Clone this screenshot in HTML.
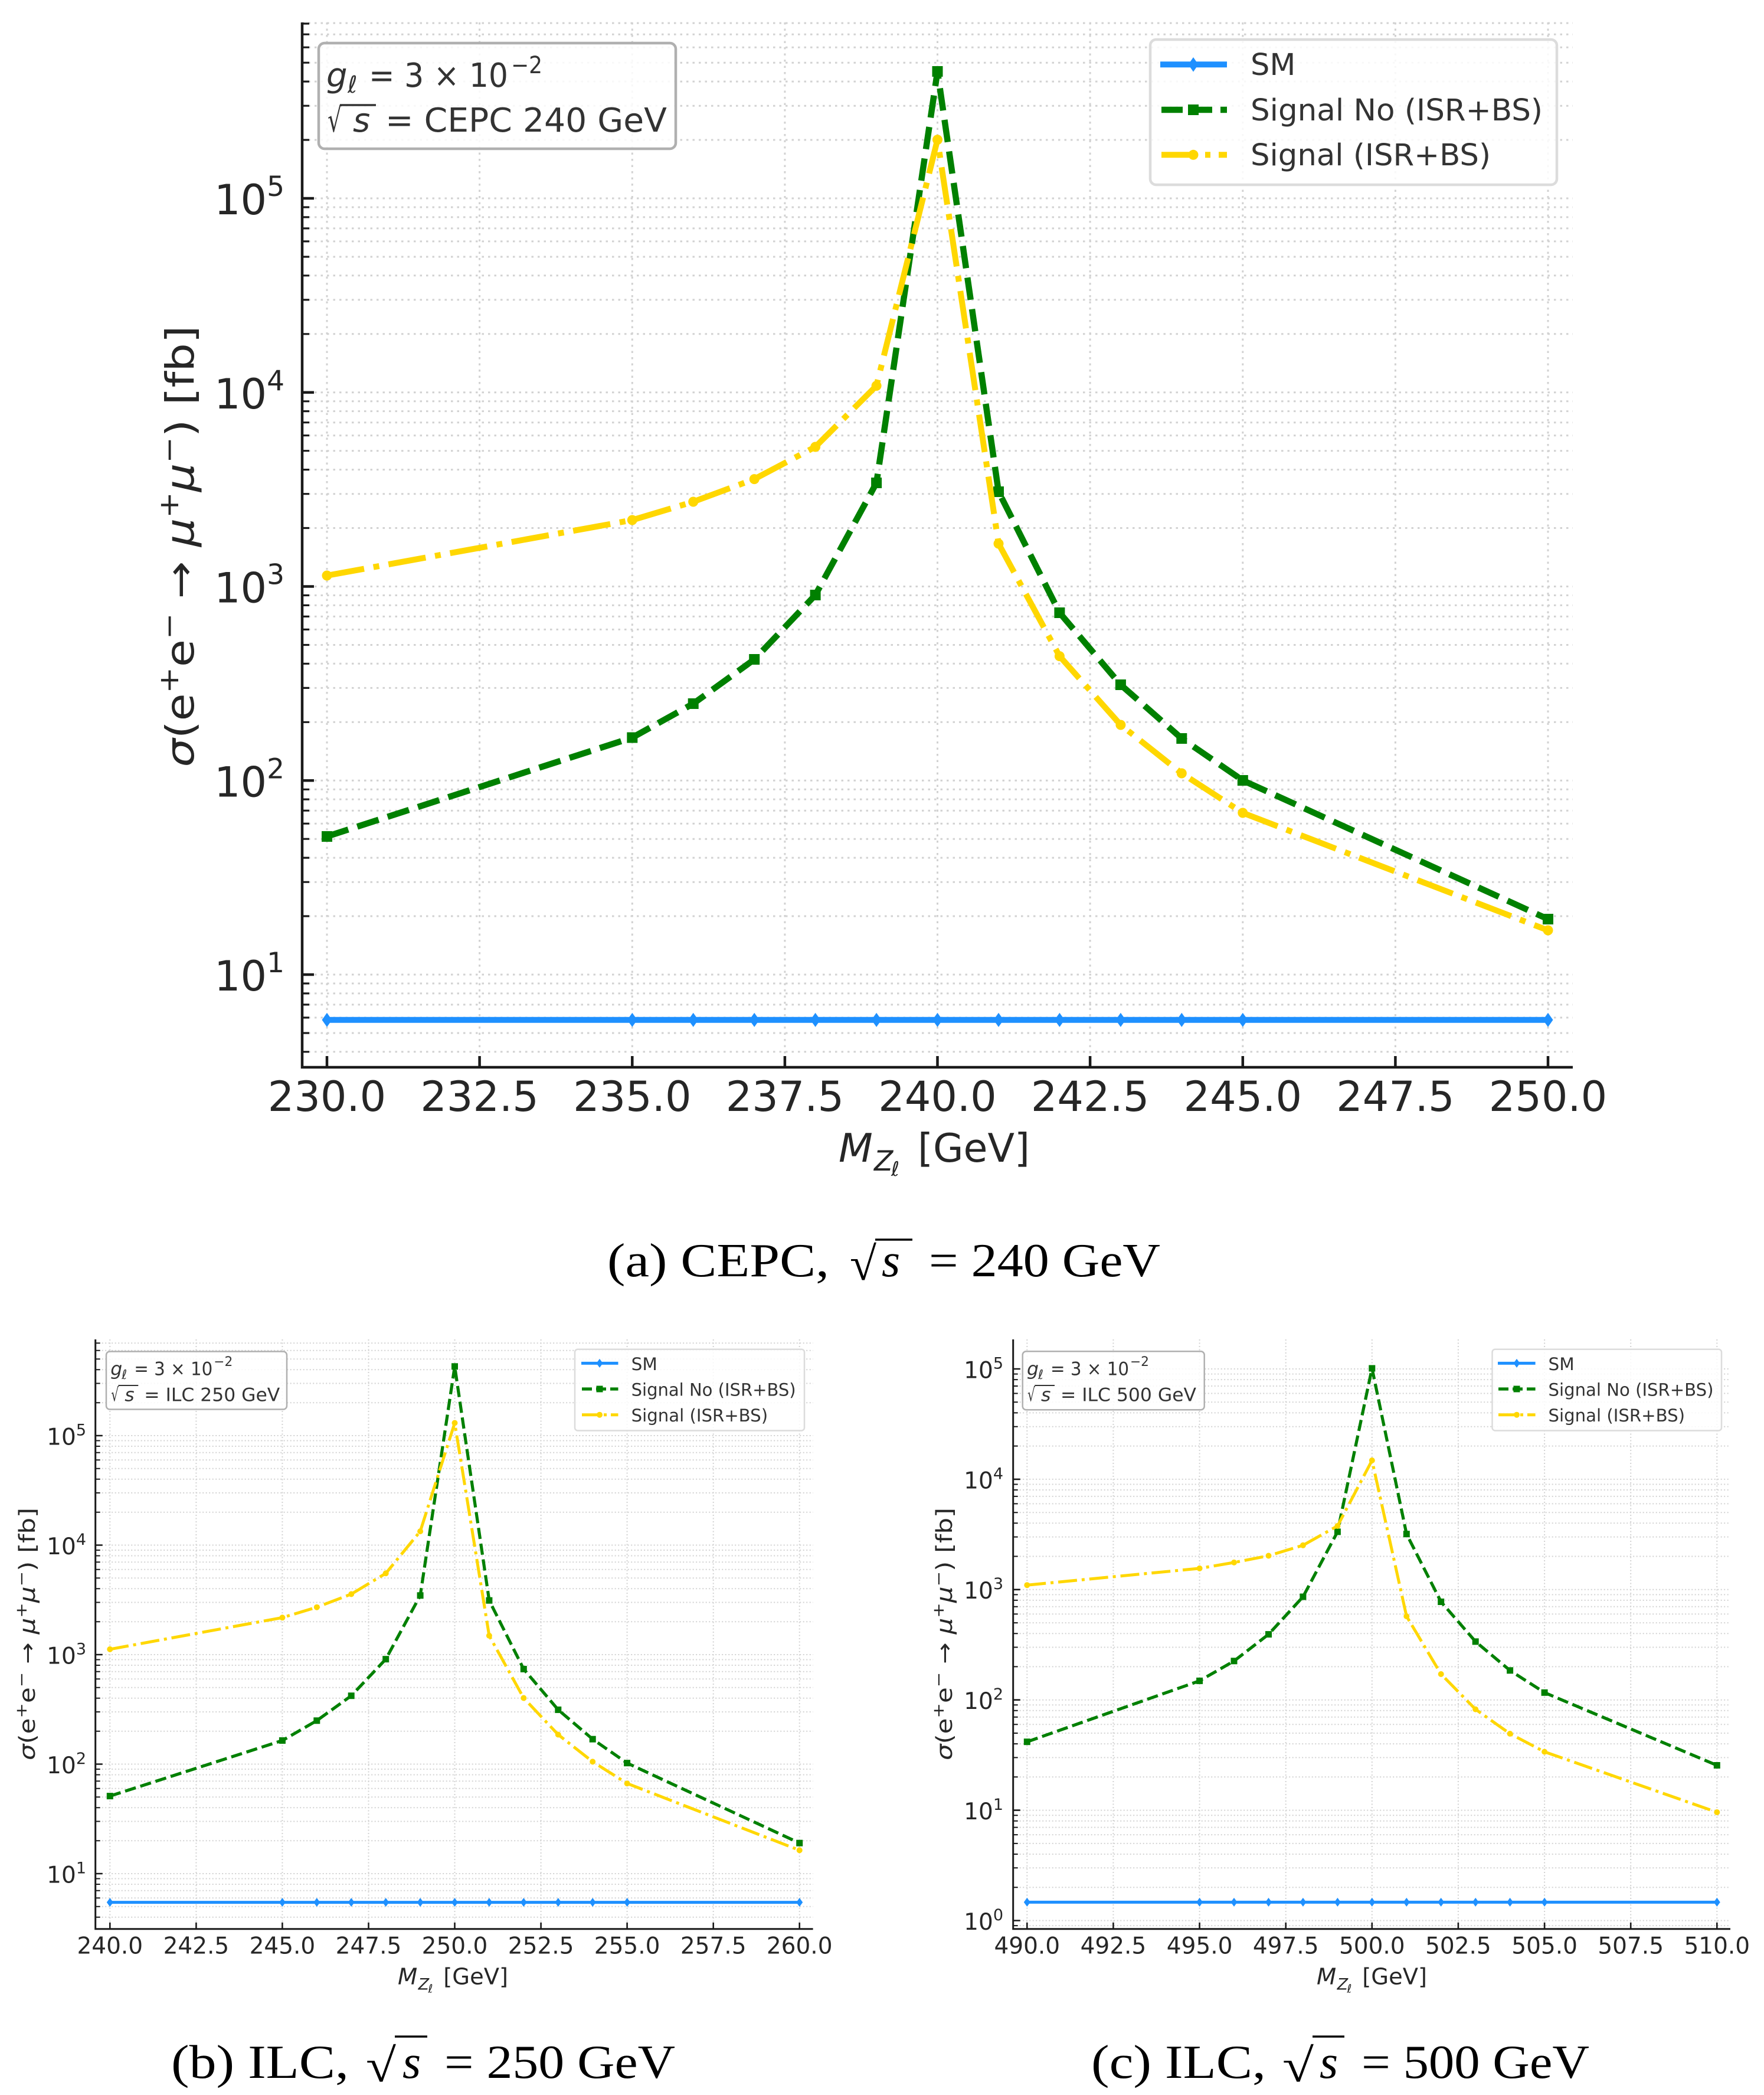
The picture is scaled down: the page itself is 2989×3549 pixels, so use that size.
<!DOCTYPE html>
<html>
<head>
<meta charset="utf-8">
<style>
html,body{margin:0;padding:0;background:#fff;}
svg{display:block;}
.t{font-family:"DejaVu Sans","Liberation Sans",sans-serif;fill:#262626;}
.l{font-family:"DejaVu Sans","Liberation Sans",sans-serif;fill:#333;}
.c{font-family:"Liberation Serif","DejaVu Serif",serif;fill:#000;}
</style>
</head>
<body>
<svg width="2989" height="3549" viewBox="0 0 2989 3549" xmlns="http://www.w3.org/2000/svg">
<defs>
<marker id="dA" markerUnits="userSpaceOnUse" markerWidth="30" markerHeight="30" viewBox="-15 -15 30 30" refX="0" refY="0" overflow="visible"><path d="M0 -12 L8.5 0 L0 12 L-8.5 0Z" fill="#1E90FF"/></marker>
<marker id="sA" markerUnits="userSpaceOnUse" markerWidth="30" markerHeight="30" viewBox="-15 -15 30 30" refX="0" refY="0" overflow="visible"><rect x="-9" y="-9" width="18" height="18" fill="#008000"/></marker>
<marker id="cA" markerUnits="userSpaceOnUse" markerWidth="30" markerHeight="30" viewBox="-15 -15 30 30" refX="0" refY="0" overflow="visible"><circle r="8.5" fill="#FFD700"/></marker>
<marker id="dB" markerUnits="userSpaceOnUse" markerWidth="20" markerHeight="20" viewBox="-10 -10 20 20" refX="0" refY="0" overflow="visible"><path d="M0 -7.5 L5.5 0 L0 7.5 L-5.5 0Z" fill="#1E90FF"/></marker>
<marker id="sB" markerUnits="userSpaceOnUse" markerWidth="20" markerHeight="20" viewBox="-10 -10 20 20" refX="0" refY="0" overflow="visible"><rect x="-5.5" y="-5.5" width="11" height="11" fill="#008000"/></marker>
<marker id="cB" markerUnits="userSpaceOnUse" markerWidth="20" markerHeight="20" viewBox="-10 -10 20 20" refX="0" refY="0" overflow="visible"><circle r="5" fill="#FFD700"/></marker>
</defs>
<rect width="2989" height="3549" fill="#fff"/>

<!-- ===================== PLOT (a) ===================== -->
<g fill="none" stroke="#d2d2d2" stroke-width="3" stroke-dasharray="3.5 7">
<path d="M512 1651H2665M512 1322.25H2665M512 993.5H2665M512 664.75H2665M512 336H2665
M512 1781.8H2665M512 1750H2665M512 1723.9H2665M512 1701.9H2665M512 1682.9H2665M512 1666H2665
M512 1552H2665M512 1494.2H2665M512 1453.1H2665M512 1421.2H2665M512 1395.2H2665M512 1373.2H2665M512 1354.1H2665M512 1337.3H2665
M512 1223.3H2665M512 1165.4H2665M512 1124.3H2665M512 1092.5H2665M512 1066.4H2665M512 1044.4H2665M512 1025.4H2665M512 1008.5H2665
M512 894.5H2665M512 836.7H2665M512 795.6H2665M512 763.7H2665M512 737.7H2665M512 715.7H2665M512 696.6H2665M512 679.8H2665
M512 565.8H2665M512 507.9H2665M512 466.8H2665M512 435H2665M512 408.9H2665M512 386.9H2665M512 367.9H2665M512 351H2665
M512 237H2665M512 179.2H2665M512 138.1H2665M512 106.2H2665M512 80.2H2665M512 58.2H2665M512 39.1H2665"/>
<path d="M554 38V1808M812.6 38V1808M1071.3 38V1808M1329.9 38V1808M1588.5 38V1808M1847.1 38V1808M2105.8 38V1808M2364.4 38V1808M2623 38V1808"/>
</g>

<!-- series (a) -->
<polyline fill="none" stroke="#1E90FF" stroke-width="10" points="554,1727.7 1071.3,1727.7 1174.7,1727.7 1278.2,1727.7 1381.6,1727.7 1485.1,1727.7 1588.5,1727.7 1692,1727.7 1795.4,1727.7 1898.9,1727.7 2002.3,1727.7 2105.8,1727.7 2623,1727.7" marker-start="url(#dA)" marker-mid="url(#dA)" marker-end="url(#dA)"/>
<polyline fill="none" stroke="#008000" stroke-width="10.5" stroke-dasharray="38 16" stroke-linejoin="round" points="554,1417 1071.3,1249.5 1174.7,1192 1278.2,1117 1381.6,1008 1485.1,818 1588.5,121 1692,833 1795.4,1038 1898.9,1160 2002.3,1251 2105.8,1322 2623,1557" marker-start="url(#sA)" marker-mid="url(#sA)" marker-end="url(#sA)"/>
<polyline fill="none" stroke="#FFD700" stroke-width="10" stroke-dasharray="64 16 10 16" stroke-linejoin="round" points="554,975 1071.3,881 1174.7,850 1278.2,811.6 1381.6,757 1485.1,653.5 1588.5,236.7 1692,921 1795.4,1111.6 1898.9,1228 2002.3,1310 2105.8,1377 2623,1576" marker-start="url(#cA)" marker-mid="url(#cA)" marker-end="url(#cA)"/>

<!-- spines & ticks (a) -->
<g stroke="#1a1a1a" fill="none">
<path stroke-width="4.5" d="M512 38V1810M509.75 1808H2665"/>
<path stroke-width="4.5" d="M512 1651h20M512 1322.25h20M512 993.5h20M512 664.75h20M512 336h20
M554 1808v-19M812.6 1808v-19M1071.3 1808v-19M1329.9 1808v-19M1588.5 1808v-19M1847.1 1808v-19M2105.8 1808v-19M2364.4 1808v-19M2623 1808v-19"/>
<path stroke-width="3.2" d="M512 1781.8h12M512 1750h12M512 1723.9h12M512 1701.9h12M512 1682.9h12M512 1666h12
M512 1552h12M512 1494.2h12M512 1453.1h12M512 1421.2h12M512 1395.2h12M512 1373.2h12M512 1354.1h12M512 1337.3h12
M512 1223.3h12M512 1165.4h12M512 1124.3h12M512 1092.5h12M512 1066.4h12M512 1044.4h12M512 1025.4h12M512 1008.5h12
M512 894.5h12M512 836.7h12M512 795.6h12M512 763.7h12M512 737.7h12M512 715.7h12M512 696.6h12M512 679.8h12
M512 565.8h12M512 507.9h12M512 466.8h12M512 435h12M512 408.9h12M512 386.9h12M512 367.9h12M512 351h12
M512 237h12M512 179.2h12M512 138.1h12M512 106.2h12M512 80.2h12M512 58.2h12M512 40h12"/>
</g>

<!-- tick labels (a) -->
<g class="t" font-size="70" text-anchor="middle">
<text x="554" y="1882">230.0</text>
<text x="812.6" y="1882">232.5</text>
<text x="1071.3" y="1882">235.0</text>
<text x="1329.9" y="1882">237.5</text>
<text x="1588.5" y="1882">240.0</text>
<text x="1847.1" y="1882">242.5</text>
<text x="2105.8" y="1882">245.0</text>
<text x="2364.4" y="1882">247.5</text>
<text x="2623" y="1882">250.0</text>
</g>
<g class="t" font-size="70" text-anchor="end">
<text x="482" y="1678">10<tspan dy="-31" font-size="47">1</tspan></text>
<text x="482" y="1349.25">10<tspan dy="-31" font-size="47">2</tspan></text>
<text x="482" y="1020.5">10<tspan dy="-31" font-size="47">3</tspan></text>
<text x="482" y="691.75">10<tspan dy="-31" font-size="47">4</tspan></text>
<text x="482" y="363">10<tspan dy="-31" font-size="47">5</tspan></text>
</g>

<!-- axis labels (a) -->
<g class="t">
<text x="1421" y="1968" font-size="67" font-style="italic">M</text>
<text x="1481" y="1983" font-size="47" font-style="italic">Z</text>
<text x="1510" y="1992" font-size="34" font-style="italic">ℓ</text>
<text x="1555" y="1968" font-size="67" textLength="190" lengthAdjust="spacingAndGlyphs">[GeV]</text>
</g>
<text class="t" font-size="66" transform="translate(328,925.5) rotate(-90)" text-anchor="middle" textLength="748" lengthAdjust="spacingAndGlyphs"><tspan font-style="italic">σ</tspan>(e<tspan dy="-26" font-size="46">+</tspan><tspan dy="26">e</tspan><tspan dy="-26" font-size="46">−</tspan><tspan dy="26"> → </tspan><tspan font-style="italic">μ</tspan><tspan dy="-26" font-size="46">+</tspan><tspan dy="26" font-style="italic">μ</tspan><tspan dy="-26" font-size="46">−</tspan><tspan dy="26">) [fb]</tspan></text>

<!-- annotation (a) -->
<rect x="540" y="73" width="605" height="179" rx="10" fill="#fff" fill-opacity="0.85" stroke="#b0b0b0" stroke-width="4.5"/>
<g class="l">
<text x="553" y="147" font-size="56" font-style="italic">g</text>
<text x="589" y="157" font-size="40" font-style="italic">ℓ</text>
<text x="625" y="147" font-size="56" textLength="236" lengthAdjust="spacingAndGlyphs">= 3 × 10</text>
<text x="866" y="124" font-size="40" textLength="53" lengthAdjust="spacingAndGlyphs">−2</text>
<text x="555" y="223" font-size="56" textLength="24" lengthAdjust="spacingAndGlyphs">√</text>
<text x="598" y="223" font-size="56" font-style="italic">s</text>
<text x="653" y="223" font-size="56" textLength="477" lengthAdjust="spacingAndGlyphs">= CEPC 240 GeV</text>
</g>
<line x1="576" y1="178" x2="637" y2="178" stroke="#333" stroke-width="3.5"/>

<!-- legend (a) -->
<rect x="1949" y="67" width="689" height="246" rx="10" fill="#fff" fill-opacity="0.85" stroke="#dcdcdc" stroke-width="4.5"/>
<line x1="1966" y1="109.3" x2="2079" y2="109.3" stroke="#1E90FF" stroke-width="10"/>
<path d="M2022 97 L2030.5 109.3 L2022 121.6 L2013.5 109.3Z" fill="#1E90FF"/>
<line x1="1968" y1="186" x2="2079" y2="186" stroke="#008000" stroke-width="10.5" stroke-dasharray="36 14"/>
<rect x="2013" y="177" width="18" height="18" fill="#008000"/>
<line x1="1968" y1="262.3" x2="2079" y2="262.3" stroke="#FFD700" stroke-width="10" stroke-dasharray="60 14 9 14"/>
<circle cx="2022" cy="262.3" r="8.5" fill="#FFD700"/>
<g class="l" font-size="51">
<text x="2119" y="127">SM</text>
<text x="2119" y="204" textLength="495" lengthAdjust="spacingAndGlyphs">Signal No (ISR+BS)</text>
<text x="2119" y="280" textLength="407" lengthAdjust="spacingAndGlyphs">Signal (ISR+BS)</text>
</g>

<!-- caption (a) -->
<g class="c" font-size="80">
<text x="1029" y="2162" textLength="376" lengthAdjust="spacingAndGlyphs">(a) CEPC,</text>
<text x="1440" y="2168" textLength="45" lengthAdjust="spacingAndGlyphs">√</text>
<text x="1494" y="2162" font-style="italic">s</text>
<text x="1574" y="2162" textLength="392" lengthAdjust="spacingAndGlyphs">= 240 GeV</text>
</g>
<line x1="1483" y1="2100" x2="1546" y2="2100" stroke="#000" stroke-width="3.5"/>

<!-- ===================== PLOT (b) ===================== -->
<g fill="none" stroke="#d2d2d2" stroke-width="2" stroke-dasharray="2 3.5">
<path d="M161.7 3174H1377.6M161.7 2988.5H1377.6M161.7 2803H1377.6M161.7 2617.5H1377.6M161.7 2432H1377.6
M161.7 3247.8H1377.6M161.7 3229.8H1377.6M161.7 3215.2H1377.6M161.7 3202.7H1377.6M161.7 3192H1377.6M161.7 3182.5H1377.6
M161.7 3118.2H1377.6M161.7 3085.5H1377.6M161.7 3062.3H1377.6M161.7 3044.3H1377.6M161.7 3029.7H1377.6M161.7 3017.2H1377.6M161.7 3006.5H1377.6M161.7 2997H1377.6
M161.7 2932.7H1377.6M161.7 2900H1377.6M161.7 2876.8H1377.6M161.7 2858.8H1377.6M161.7 2844.2H1377.6M161.7 2831.7H1377.6M161.7 2821H1377.6M161.7 2811.5H1377.6
M161.7 2747.2H1377.6M161.7 2714.5H1377.6M161.7 2691.3H1377.6M161.7 2673.3H1377.6M161.7 2658.7H1377.6M161.7 2646.2H1377.6M161.7 2635.5H1377.6M161.7 2626H1377.6
M161.7 2561.7H1377.6M161.7 2529H1377.6M161.7 2505.8H1377.6M161.7 2487.8H1377.6M161.7 2473.2H1377.6M161.7 2460.7H1377.6M161.7 2450H1377.6M161.7 2440.5H1377.6
M161.7 2376.2H1377.6M161.7 2343.5H1377.6M161.7 2320.3H1377.6M161.7 2302.3H1377.6M161.7 2287.7H1377.6M161.7 2275.2H1377.6"/>
<path d="M186.3 2269V3267.7M332.4 2269V3267.7M478.4 2269V3267.7M624.5 2269V3267.7M770.5 2269V3267.7M916.6 2269V3267.7M1062.6 2269V3267.7M1208.7 2269V3267.7M1354.7 2269V3267.7"/>
</g>

<polyline fill="none" stroke="#1E90FF" stroke-width="5" points="186.3,3222.6 478.4,3222.6 536.8,3222.6 595.2,3222.6 653.7,3222.6 712.1,3222.6 770.5,3222.6 828.9,3222.6 887.3,3222.6 945.8,3222.6 1004.2,3222.6 1062.6,3222.6 1354.7,3222.6" marker-start="url(#dB)" marker-mid="url(#dB)" marker-end="url(#dB)"/>
<polyline fill="none" stroke="#008000" stroke-width="5.2" stroke-dasharray="19 8" stroke-linejoin="round" points="186.3,3042.6 478.4,2948.5 536.8,2914.8 595.2,2872.7 653.7,2810.7 712.1,2702.8 770.5,2314.8 828.9,2711.2 887.3,2827.5 945.8,2896.4 1004.2,2946.2 1062.6,2986.7 1354.7,3122.2" marker-start="url(#sB)" marker-mid="url(#sB)" marker-end="url(#sB)"/>
<polyline fill="none" stroke="#FFD700" stroke-width="5" stroke-dasharray="32 8 5 8" stroke-linejoin="round" points="186.3,2793.9 478.4,2740.3 536.8,2722.7 595.2,2700.5 653.7,2665.3 712.1,2594.1 770.5,2410.5 828.9,2770.9 887.3,2876.5 945.8,2938.5 1004.2,2984.4 1062.6,3021.2 1354.7,3134.4" marker-start="url(#cB)" marker-mid="url(#cB)" marker-end="url(#cB)"/>

<g stroke="#1a1a1a" fill="none">
<path stroke-width="3" d="M161.7 2269V3269M160.2 3267.7H1377.6"/>
<path stroke-width="2.6" d="M161.7 3174h12M161.7 2988.5h12M161.7 2803h12M161.7 2617.5h12M161.7 2432h12
M186.3 3267.7v-11M332.4 3267.7v-11M478.4 3267.7v-11M624.5 3267.7v-11M770.5 3267.7v-11M916.6 3267.7v-11M1062.6 3267.7v-11M1208.7 3267.7v-11M1354.7 3267.7v-11"/>
<path stroke-width="2" d="M161.7 3247.8h8M161.7 3229.8h8M161.7 3215.2h8M161.7 3202.7h8M161.7 3192h8M161.7 3182.5h8
M161.7 3118.2h8M161.7 3085.5h8M161.7 3062.3h8M161.7 3044.3h8M161.7 3029.7h8M161.7 3017.2h8M161.7 3006.5h8M161.7 2997h8
M161.7 2932.7h8M161.7 2900h8M161.7 2876.8h8M161.7 2858.8h8M161.7 2844.2h8M161.7 2831.7h8M161.7 2821h8M161.7 2811.5h8
M161.7 2747.2h8M161.7 2714.5h8M161.7 2691.3h8M161.7 2673.3h8M161.7 2658.7h8M161.7 2646.2h8M161.7 2635.5h8M161.7 2626h8
M161.7 2561.7h8M161.7 2529h8M161.7 2505.8h8M161.7 2487.8h8M161.7 2473.2h8M161.7 2460.7h8M161.7 2450h8M161.7 2440.5h8
M161.7 2376.2h8M161.7 2343.5h8M161.7 2320.3h8M161.7 2302.3h8M161.7 2287.7h8M161.7 2275.2h8"/>
</g>

<g class="t" font-size="39" text-anchor="middle">
<text x="186.3" y="3309.5">240.0</text>
<text x="332.4" y="3309.5">242.5</text>
<text x="478.4" y="3309.5">245.0</text>
<text x="624.5" y="3309.5">247.5</text>
<text x="770.5" y="3309.5">250.0</text>
<text x="916.6" y="3309.5">252.5</text>
<text x="1062.6" y="3309.5">255.0</text>
<text x="1208.7" y="3309.5">257.5</text>
<text x="1354.7" y="3309.5">260.0</text>
</g>
<g class="t" font-size="39" text-anchor="end">
<text x="146" y="3189.5">10<tspan dy="-16" font-size="27">1</tspan></text>
<text x="146" y="3004">10<tspan dy="-16" font-size="27">2</tspan></text>
<text x="146" y="2818.5">10<tspan dy="-16" font-size="27">3</tspan></text>
<text x="146" y="2633">10<tspan dy="-16" font-size="27">4</tspan></text>
<text x="146" y="2447.5">10<tspan dy="-16" font-size="27">5</tspan></text>
</g>
<g class="t">
<text x="674" y="3361.7" font-size="38.5" font-style="italic">M</text>
<text x="708.6" y="3370.4" font-size="27" font-style="italic">Z</text>
<text x="725.4" y="3375.7" font-size="19.5" font-style="italic">ℓ</text>
<text x="751.3" y="3361.7" font-size="38.5" textLength="109.7" lengthAdjust="spacingAndGlyphs">[GeV]</text>
</g>
<text class="t" font-size="37" transform="translate(59,2768) rotate(-90)" text-anchor="middle" textLength="428" lengthAdjust="spacingAndGlyphs"><tspan font-style="italic">σ</tspan>(e<tspan dy="-14" font-size="26">+</tspan><tspan dy="14">e</tspan><tspan dy="-14" font-size="26">−</tspan><tspan dy="14"> → </tspan><tspan font-style="italic">μ</tspan><tspan dy="-14" font-size="26">+</tspan><tspan dy="14" font-style="italic">μ</tspan><tspan dy="-14" font-size="26">−</tspan><tspan dy="14">) [fb]</tspan></text>

<rect x="180" y="2289.5" width="306" height="98" rx="6" fill="#fff" fill-opacity="0.85" stroke="#b0b0b0" stroke-width="2.5"/>
<g class="l">
<text x="187.3" y="2329.5" font-size="31.5" font-style="italic">g</text>
<text x="206.3" y="2336" font-size="22" font-style="italic">ℓ</text>
<text x="227.3" y="2329.5" font-size="31.5" textLength="133" lengthAdjust="spacingAndGlyphs">= 3 × 10</text>
<text x="362.3" y="2314" font-size="22" textLength="32" lengthAdjust="spacingAndGlyphs">−2</text>
<text x="188.3" y="2373.5" font-size="31.5" textLength="13" lengthAdjust="spacingAndGlyphs">√</text>
<text x="211.3" y="2373.5" font-size="31.5" font-style="italic">s</text>
<text x="244.3" y="2373.5" font-size="31.5" textLength="230" lengthAdjust="spacingAndGlyphs">= ILC 250 GeV</text>
</g>
<line x1="200.5" y1="2347" x2="234.3" y2="2347" stroke="#333" stroke-width="2"/>

<rect x="974" y="2285.7" width="389" height="137.8" rx="5" fill="#fff" fill-opacity="0.85" stroke="#dcdcdc" stroke-width="2.5"/>
<line x1="985" y1="2309.4" x2="1047.5" y2="2309.4" stroke="#1E90FF" stroke-width="5"/>
<path d="M1016 2301.9 L1021.5 2309.4 L1016 2316.9 L1010.5 2309.4Z" fill="#1E90FF"/>
<line x1="986" y1="2353" x2="1047.5" y2="2353" stroke="#008000" stroke-width="5.2" stroke-dasharray="17 7"/>
<rect x="1010.5" y="2347.5" width="11" height="11" fill="#008000"/>
<line x1="986" y1="2396.7" x2="1047.5" y2="2396.7" stroke="#FFD700" stroke-width="5" stroke-dasharray="30 7 5 7"/>
<circle cx="1016" cy="2396.7" r="5" fill="#FFD700"/>
<g class="l" font-size="29.5">
<text x="1069.6" y="2321">SM</text>
<text x="1069.6" y="2364.5" textLength="279" lengthAdjust="spacingAndGlyphs">Signal No (ISR+BS)</text>
<text x="1069.6" y="2408" textLength="231.5" lengthAdjust="spacingAndGlyphs">Signal (ISR+BS)</text>
</g>

<g class="c" font-size="80">
<text x="290" y="3520" textLength="301" lengthAdjust="spacingAndGlyphs">(b) ILC,</text>
<text x="620" y="3526" textLength="51" lengthAdjust="spacingAndGlyphs">√</text>
<text x="682" y="3520" font-style="italic">s</text>
<text x="753" y="3520" textLength="391" lengthAdjust="spacingAndGlyphs">= 250 GeV</text>
</g>
<line x1="669" y1="3450" x2="724" y2="3450" stroke="#000" stroke-width="3.5"/>

<!-- ===================== PLOT (c) ===================== -->
<g fill="none" stroke="#d2d2d2" stroke-width="2" stroke-dasharray="2 3.5">
<path d="M1716.7 3253.5H2932M1716.7 3066.6H2932M1716.7 2879.7H2932M1716.7 2692.8H2932M1716.7 2505.9H2932M1716.7 2319H2932
M1716.7 3262.1H2932M1716.7 3197.2H2932M1716.7 3164.3H2932M1716.7 3141H2932M1716.7 3122.9H2932M1716.7 3108.1H2932M1716.7 3095.6H2932M1716.7 3084.7H2932M1716.7 3075.2H2932
M1716.7 3010.3H2932M1716.7 2977.4H2932M1716.7 2954.1H2932M1716.7 2936H2932M1716.7 2921.2H2932M1716.7 2908.7H2932M1716.7 2897.8H2932M1716.7 2888.3H2932
M1716.7 2823.4H2932M1716.7 2790.5H2932M1716.7 2767.2H2932M1716.7 2749.1H2932M1716.7 2734.3H2932M1716.7 2721.8H2932M1716.7 2710.9H2932M1716.7 2701.4H2932
M1716.7 2636.5H2932M1716.7 2603.6H2932M1716.7 2580.3H2932M1716.7 2562.2H2932M1716.7 2547.4H2932M1716.7 2534.9H2932M1716.7 2524H2932M1716.7 2514.5H2932
M1716.7 2449.6H2932M1716.7 2416.7H2932M1716.7 2393.4H2932M1716.7 2375.3H2932M1716.7 2360.5H2932M1716.7 2348H2932M1716.7 2337.1H2932M1716.7 2327.6H2932"/>
<path d="M1740.3 2269V3267.7M1886.4 2269V3267.7M2032.6 2269V3267.7M2178.7 2269V3267.7M2324.8 2269V3267.7M2470.9 2269V3267.7M2617.1 2269V3267.7M2763.2 2269V3267.7M2909.3 2269V3267.7"/>
</g>

<polyline fill="none" stroke="#1E90FF" stroke-width="5" points="1740.3,3222.4 2032.6,3222.4 2091,3222.4 2149.5,3222.4 2207.9,3222.4 2266.4,3222.4 2324.8,3222.4 2383.3,3222.4 2441.7,3222.4 2500.2,3222.4 2558.6,3222.4 2617.1,3222.4 2909.3,3222.4" marker-start="url(#dB)" marker-mid="url(#dB)" marker-end="url(#dB)"/>
<polyline fill="none" stroke="#008000" stroke-width="5.2" stroke-dasharray="19 8" stroke-linejoin="round" points="1740.3,2950.7 2032.6,2847.4 2091,2813.8 2149.5,2768.6 2207.9,2705 2266.4,2594.9 2324.8,2318 2383.3,2598.7 2441.7,2713.5 2500.2,2780.9 2558.6,2829.8 2617.1,2867.3 2909.3,2990.5" marker-start="url(#sB)" marker-mid="url(#sB)" marker-end="url(#sB)"/>
<polyline fill="none" stroke="#FFD700" stroke-width="5" stroke-dasharray="32 8 5 8" stroke-linejoin="round" points="1740.3,2685.2 2032.6,2656.9 2091,2646.9 2149.5,2635.5 2207.9,2617.8 2266.4,2585 2324.8,2474 2383.3,2738 2441.7,2836 2500.2,2895.6 2558.6,2937 2617.1,2967.6 2909.3,3070" marker-start="url(#cB)" marker-mid="url(#cB)" marker-end="url(#cB)"/>

<g stroke="#1a1a1a" fill="none">
<path stroke-width="3" d="M1716.7 2269V3269M1715.2 3267.7H2932"/>
<path stroke-width="2.6" d="M1716.7 3253.5h12M1716.7 3066.6h12M1716.7 2879.7h12M1716.7 2692.8h12M1716.7 2505.9h12M1716.7 2319h12
M1740.3 3267.7v-11M1886.4 3267.7v-11M2032.6 3267.7v-11M2178.7 3267.7v-11M2324.8 3267.7v-11M2470.9 3267.7v-11M2617.1 3267.7v-11M2763.2 3267.7v-11M2909.3 3267.7v-11"/>
<path stroke-width="2" d="M1716.7 3262.1h8M1716.7 3197.2h8M1716.7 3164.3h8M1716.7 3141h8M1716.7 3122.9h8M1716.7 3108.1h8M1716.7 3095.6h8M1716.7 3084.7h8M1716.7 3075.2h8
M1716.7 3010.3h8M1716.7 2977.4h8M1716.7 2954.1h8M1716.7 2936h8M1716.7 2921.2h8M1716.7 2908.7h8M1716.7 2897.8h8M1716.7 2888.3h8
M1716.7 2823.4h8M1716.7 2790.5h8M1716.7 2767.2h8M1716.7 2749.1h8M1716.7 2734.3h8M1716.7 2721.8h8M1716.7 2710.9h8M1716.7 2701.4h8
M1716.7 2636.5h8M1716.7 2603.6h8M1716.7 2580.3h8M1716.7 2562.2h8M1716.7 2547.4h8M1716.7 2534.9h8M1716.7 2524h8M1716.7 2514.5h8
M1716.7 2449.6h8M1716.7 2416.7h8M1716.7 2393.4h8M1716.7 2375.3h8M1716.7 2360.5h8M1716.7 2348h8M1716.7 2337.1h8M1716.7 2327.6h8"/>
</g>

<g class="t" font-size="39" text-anchor="middle">
<text x="1740.3" y="3309.5">490.0</text>
<text x="1886.4" y="3309.5">492.5</text>
<text x="2032.6" y="3309.5">495.0</text>
<text x="2178.7" y="3309.5">497.5</text>
<text x="2324.8" y="3309.5">500.0</text>
<text x="2470.9" y="3309.5">502.5</text>
<text x="2617.1" y="3309.5">505.0</text>
<text x="2763.2" y="3309.5">507.5</text>
<text x="2909.3" y="3309.5">510.0</text>
</g>
<g class="t" font-size="39" text-anchor="end">
<text x="1700" y="3269">10<tspan dy="-16" font-size="27">0</tspan></text>
<text x="1700" y="3082">10<tspan dy="-16" font-size="27">1</tspan></text>
<text x="1700" y="2895">10<tspan dy="-16" font-size="27">2</tspan></text>
<text x="1700" y="2708">10<tspan dy="-16" font-size="27">3</tspan></text>
<text x="1700" y="2521.5">10<tspan dy="-16" font-size="27">4</tspan></text>
<text x="1700" y="2334.5">10<tspan dy="-16" font-size="27">5</tspan></text>
</g>
<g class="t">
<text x="2231" y="3361.7" font-size="38.5" font-style="italic">M</text>
<text x="2265.6" y="3370.4" font-size="27" font-style="italic">Z</text>
<text x="2282.4" y="3375.7" font-size="19.5" font-style="italic">ℓ</text>
<text x="2308.3" y="3361.7" font-size="38.5" textLength="109.7" lengthAdjust="spacingAndGlyphs">[GeV]</text>
</g>
<text class="t" font-size="37" transform="translate(1613,2768) rotate(-90)" text-anchor="middle" textLength="428" lengthAdjust="spacingAndGlyphs"><tspan font-style="italic">σ</tspan>(e<tspan dy="-14" font-size="26">+</tspan><tspan dy="14">e</tspan><tspan dy="-14" font-size="26">−</tspan><tspan dy="14"> → </tspan><tspan font-style="italic">μ</tspan><tspan dy="-14" font-size="26">+</tspan><tspan dy="14" font-style="italic">μ</tspan><tspan dy="-14" font-size="26">−</tspan><tspan dy="14">) [fb]</tspan></text>

<rect x="1732.7" y="2289.3" width="308" height="99" rx="6" fill="#fff" fill-opacity="0.85" stroke="#b0b0b0" stroke-width="2.5"/>
<g class="l">
<text x="1740" y="2329.5" font-size="31.5" font-style="italic">g</text>
<text x="1759" y="2336" font-size="22" font-style="italic">ℓ</text>
<text x="1780" y="2329.5" font-size="31.5" textLength="133" lengthAdjust="spacingAndGlyphs">= 3 × 10</text>
<text x="1915" y="2314" font-size="22" textLength="32" lengthAdjust="spacingAndGlyphs">−2</text>
<text x="1741" y="2373.5" font-size="31.5" textLength="13" lengthAdjust="spacingAndGlyphs">√</text>
<text x="1764" y="2373.5" font-size="31.5" font-style="italic">s</text>
<text x="1797" y="2373.5" font-size="31.5" textLength="230" lengthAdjust="spacingAndGlyphs">= ILC 500 GeV</text>
</g>
<line x1="1753.2" y1="2347" x2="1787" y2="2347" stroke="#333" stroke-width="2"/>

<rect x="2528.5" y="2285.7" width="388.5" height="137.8" rx="5" fill="#fff" fill-opacity="0.85" stroke="#dcdcdc" stroke-width="2.5"/>
<line x1="2538" y1="2309.4" x2="2601.6" y2="2309.4" stroke="#1E90FF" stroke-width="5"/>
<path d="M2570 2301.9 L2575.5 2309.4 L2570 2316.9 L2564.5 2309.4Z" fill="#1E90FF"/>
<line x1="2539" y1="2353" x2="2601.6" y2="2353" stroke="#008000" stroke-width="5.2" stroke-dasharray="17 7"/>
<rect x="2564.5" y="2347.5" width="11" height="11" fill="#008000"/>
<line x1="2539" y1="2396.7" x2="2601.6" y2="2396.7" stroke="#FFD700" stroke-width="5" stroke-dasharray="30 7 5 7"/>
<circle cx="2570" cy="2396.7" r="5" fill="#FFD700"/>
<g class="l" font-size="29.5">
<text x="2623.5" y="2321">SM</text>
<text x="2623.5" y="2364.5" textLength="280" lengthAdjust="spacingAndGlyphs">Signal No (ISR+BS)</text>
<text x="2623.5" y="2408" textLength="231.5" lengthAdjust="spacingAndGlyphs">Signal (ISR+BS)</text>
</g>

<g class="c" font-size="80">
<text x="1849" y="3520" textLength="296" lengthAdjust="spacingAndGlyphs">(c) ILC,</text>
<text x="2173" y="3526" textLength="53" lengthAdjust="spacingAndGlyphs">√</text>
<text x="2236" y="3520" font-style="italic">s</text>
<text x="2307" y="3520" textLength="386" lengthAdjust="spacingAndGlyphs">= 500 GeV</text>
</g>
<line x1="2224" y1="3450" x2="2278" y2="3450" stroke="#000" stroke-width="3.5"/>
</svg>
</body>
</html>
